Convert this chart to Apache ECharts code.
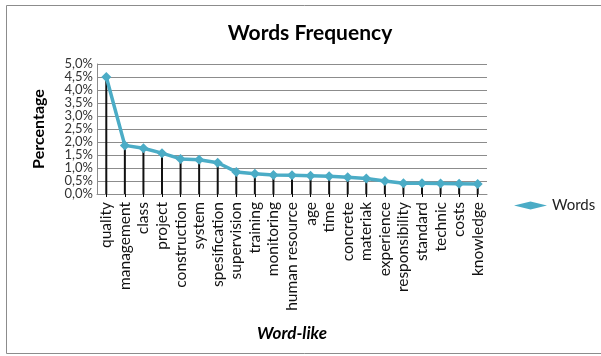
<!DOCTYPE html>
<html>
<head>
<meta charset="utf-8">
<script src="https://cdn.jsdelivr.net/npm/echarts@6/dist/echarts.min.js"></script>
<style>
  html, body { margin: 0; padding: 0; background: #fff; }
  #chart { width: 601px; height: 356px; }
</style>
</head>
<body>
<div id="chart"></div>
<script>
// Word categories along the x axis
const words = ['quality', 'management', 'class', 'project', 'construction', 'system',
  'spesification', 'supervision', 'training', 'monitoring', 'human resource', 'age',
  'time', 'concrete', 'materiak', 'experience', 'responsibility', 'standard',
  'technic', 'costs', 'knowledge'];

// Share of each word, in percent
const frequency = [4.5, 1.87, 1.76, 1.57, 1.35, 1.32, 1.2, 0.85, 0.78, 0.73, 0.72,
  0.7, 0.68, 0.64, 0.6, 0.5, 0.41, 0.41, 0.4, 0.39, 0.38];

// Y axis range and step (percent)
const yMin = 0, yMax = 5, yStep = 0.5;

const FONT = 'Lato';
const chart = echarts.init(document.getElementById('chart'), null, { renderer: 'canvas' });

chart.setOption({
  animation: false,
  backgroundColor: '#fff',
  textStyle: { fontFamily: FONT },
  graphic: [{
    type: 'rect',
    shape: { x: 6.5, y: 5.5, width: 600, height: 348 },
    style: { fill: 'none', stroke: '#8c8c8c', lineWidth: 1 },
    silent: true
  }],
  title: {
    text: 'Words Frequency',
    left: 305, top: 18, textAlign: 'center',
    textStyle: { fontFamily: FONT, fontSize: 21, fontWeight: 'bold', color: '#000' }
  },
  legend: {
    data: [{ name: 'Words', icon: 'diamond' }],
    left: 509, top: 193,
    itemWidth: 33, itemHeight: 8, itemGap: 4,
    textStyle: { fontFamily: FONT, fontSize: 15, color: '#222' }
  },
  grid: { left: 97, right: 114, top: 64, bottom: 162 },
  xAxis: {
    type: 'category',
    data: words,
    boundaryGap: true,
    name: 'Word-like',
    nameLocation: 'middle',
    nameGap: 131,
    nameTextStyle: { fontFamily: FONT, fontSize: 17, fontWeight: 'bold', fontStyle: 'italic', color: '#000' },
    axisLine: { lineStyle: { color: '#8c8c8c', width: 1 } },
    axisTick: { show: true, alignWithLabel: true, length: 3, lineStyle: { color: '#000' } },
    axisLabel: {
      rotate: 90, interval: 0, margin: 8,
      fontFamily: FONT, fontSize: 15.5, color: '#111'
    },
    splitLine: { show: false }
  },
  yAxis: {
    type: 'value',
    min: yMin, max: yMax, interval: yStep,
    name: 'Percentage',
    nameLocation: 'middle',
    nameGap: 50,
    nameRotate: 90,
    nameTextStyle: { fontFamily: FONT, fontSize: 16, fontWeight: 'bold', color: '#000' },
    axisLine: { show: true, lineStyle: { color: '#8c8c8c' } },
    axisTick: { show: false },
    axisLabel: {
      margin: 4, fontFamily: FONT, fontSize: 13, color: '#333',
      formatter: v => v.toFixed(1).replace('.', ',') + '%'
    },
    splitLine: { lineStyle: { color: '#8c8c8c', width: 1 } }
  },
  series: [
    {
      // Drop lines from each point down to the axis
      name: 'drop',
      type: 'bar',
      data: frequency,
      barWidth: 2,
      barGap: '-100%',
      itemStyle: { color: '#111' },
      silent: true,
      z: 1
    },
    {
      name: 'Words',
      type: 'line',
      data: frequency,
      symbol: 'diamond',
      symbolSize: 10,
      lineStyle: { color: '#4bacc6', width: 3.5 },
      itemStyle: { color: '#4bacc6' },
      z: 3
    }
  ]
});
</script>
</body>
</html>
